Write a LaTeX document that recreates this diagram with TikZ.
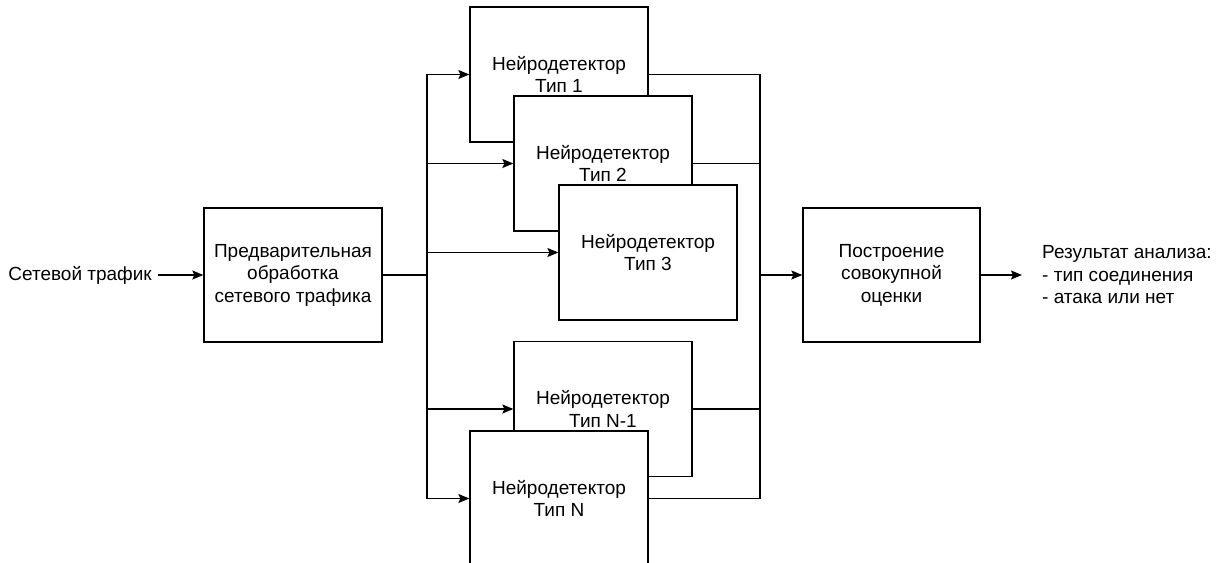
\documentclass[tikz,border=0pt]{standalone}
\usepackage{fontspec}
\setmainfont{Liberation Sans}
\usetikzlibrary{arrows.meta}
\begin{document}
\begin{tikzpicture}[x=1pt,y=-1pt,
  every node/.style={font=\fontsize{19}{22.5}\selectfont},
  block/.style={draw=black, line width=1.3pt, fill=white, align=center,
    minimum width=178pt, minimum height=135pt, inner sep=0pt},
  conn/.style={line width=1.3pt, draw=black},
  arr/.style={conn, -{Stealth[length=11pt,width=9pt,inset=2pt]}}]
\useasboundingbox (0,0) rectangle (1223,562);
\clip (0,0) rectangle (1223,562);

% nodes
\node[anchor=east, inner xsep=6pt, inner ysep=0pt] (in) at (158,275) {Сетевой трафик};
\node[block, minimum height=134pt] (pre) at (293,275) {Предварительная\\обработка\\сетевого трафика};
\node[block, minimum width=177pt, minimum height=134pt] (comb) at (891.5,275) {Построение\\совокупной\\оценки};
\node[anchor=west, inner xsep=20pt, inner ysep=0pt, align=left] (res) at (1022,275) {Результат анализа:\\- тип соединения\\- атака или нет};

\coordinate (bl) at (427,275);
\coordinate (br) at (760,275);

% detector boxes (drawn in stacking order)
\node[block] (T1) at (559,74.5) {Нейродетектор\\Тип 1};
\node[block] (T2) at (603,163.5) {Нейродетектор\\Тип 2};
\node[block] (T3) at (648,252.5) {Нейродетектор\\Тип 3};
\node[block] (TN1) at (603,409) {Нейродетектор\\Тип N-1};
\node[block] (TN) at (559,498.5) {Нейродетектор\\Тип N};

% connectors
\draw[arr] (in) -- (pre);
\draw[conn] (pre.east) -- (bl);
\draw[arr] (bl) |- (T1.west);
\draw[arr] (bl) |- (T2.west);
\draw[arr] (bl) |- (T3.west);
\draw[arr] (bl) |- (TN1.west);
\draw[arr] (bl) |- (TN.west);

\draw[conn] (T1.east) -| (br);
\draw[conn] (T2.east) -| (br);
\draw[conn] (TN1.east) -| (br);
\draw[conn] (TN.east) -| (br);
\draw[arr] (br) -- (comb.west);
\draw[arr] (comb) -- (res);
\end{tikzpicture}
\end{document}
